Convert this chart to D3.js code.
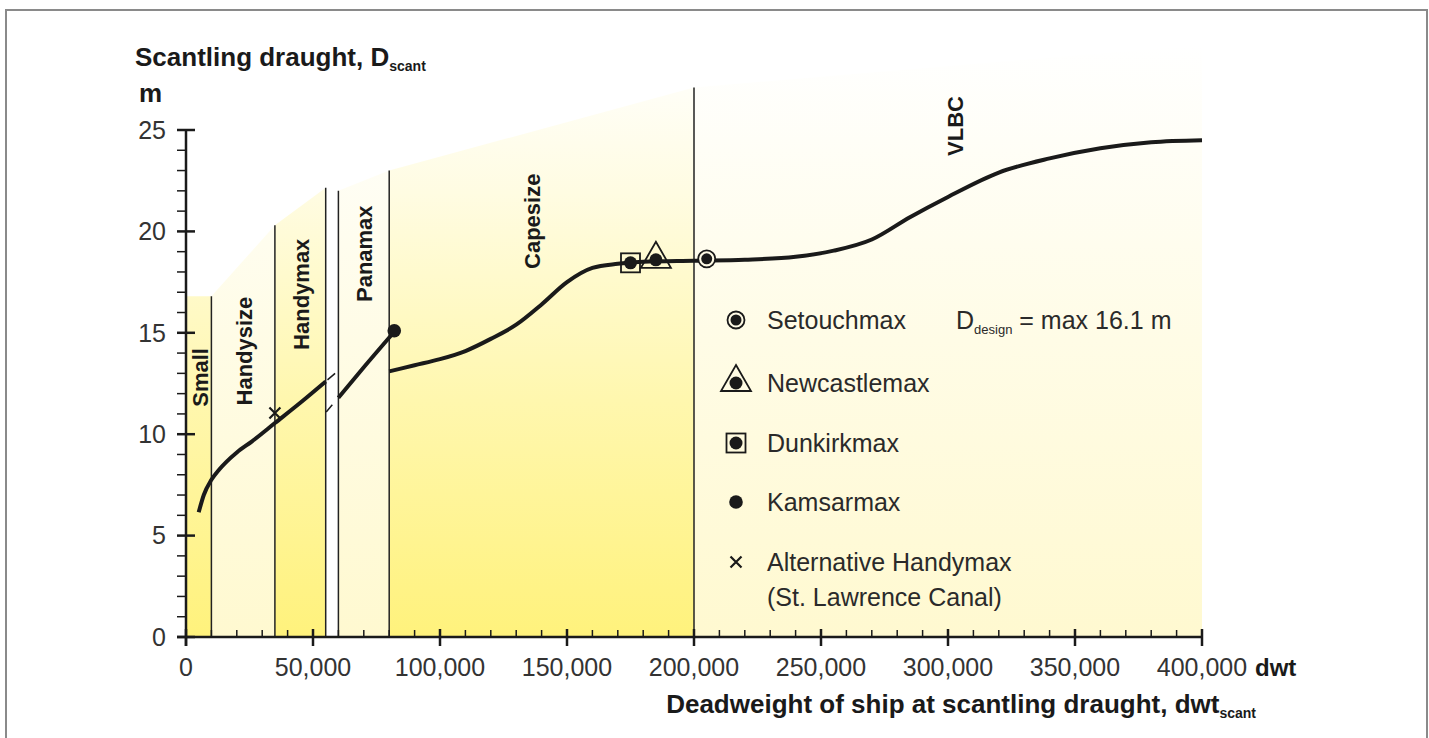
<!DOCTYPE html>
<html><head><meta charset="utf-8">
<script src="https://cdn.jsdelivr.net/npm/d3@7"></script>
<style>
html,body{margin:0;padding:0;background:#fff;}
svg text{font-family:"Liberation Sans",Arial,Helvetica,sans-serif;}
</style></head>
<body><svg id="c" width="1429" height="738"></svg>
<script>
// ---------------- DATA ----------------
const xTicks = [0, 50000, 100000, 150000, 200000, 250000, 300000, 350000, 400000];
const yTicks = [0, 5, 10, 15, 20, 25];
// class boundaries (dwt) and the top of the shaded band at each boundary (m)
const boundaryDwt = [0, 10000, 35000, 55000, 60000, 80000, 200000, 400000];
const boundaryTop = [16.8, 16.8, 20.3, 22.15, 22.0, 23.0, 27.1, 29.2];
const classNames = ["Small", "Handysize", "Handymax", "", "Panamax", "Capesize", "VLBC"];
const classShade = ["strong", "pale", "strong", "none", "pale", "strong", "pale"];
const classLabelCenter = [[5800, 12.8], [23000, 14.1], [45500, 16.9], null, [70000, 18.9], [136500, 20.5], [303000, 25.2]];
const dividerDwt = [10000, 35000, 55000, 60000, 80000, 200000];
// draught curve segments
const smallHandyDwt = [5000, 7000, 10000, 13000, 16000, 20000, 26000, 35000, 45000, 55000];
const smallHandyD   = [6.15, 7.0, 7.75, 8.25, 8.65, 9.1, 9.65, 10.55, 11.55, 12.6];
const handyExtDwt = [55700, 58700];
const handyExtD   = [12.68, 13.0];
const panamaxDwt = [60000, 70000, 82000];
const panamaxD   = [11.8, 13.3, 15.05];
const panamaxExtDwt = [55200, 57600];
const panamaxExtD   = [11.1, 11.45];
const capeDwt = [80000, 90000, 100000, 110000, 120000, 130000, 140000, 150000, 160000, 170000, 180000, 200000, 220000, 240000, 255000, 270000, 285000, 300000, 320000, 340000, 360000, 380000, 400000];
const capeD   = [13.1, 13.4, 13.7, 14.1, 14.7, 15.4, 16.4, 17.5, 18.2, 18.4, 18.5, 18.55, 18.6, 18.75, 19.05, 19.6, 20.7, 21.7, 22.9, 23.6, 24.1, 24.4, 24.5];
// named ship types
const markerNames = ["Setouchmax", "Newcastlemax", "Dunkirkmax", "Kamsarmax", "Alternative Handymax"];
const markerDwt = [205000, 185000, 175000, 82000, 35000];
const markerD   = [18.65, 18.6, 18.45, 15.1, 11.05];
const markerType = ["ring", "triangle", "square", "dot", "cross"];
const legendLines = [["Setouchmax"], ["Newcastlemax"], ["Dunkirkmax"], ["Kamsarmax"], ["Alternative Handymax", "(St. Lawrence Canal)"]];

// ---------------- CHART ----------------
const svg = d3.select("#c");
const x = d3.scaleLinear().domain([0, 400000]).range([186, 1202]);
const y = d3.scaleLinear().domain([0, 25]).range([637, 130]);
const topAt = d3.scaleLinear().domain(boundaryDwt).range(boundaryTop);

// frame
svg.append("rect").attr("x", 6).attr("y", 10).attr("width", 1421).attr("height", 760)
  .attr("fill", "none").attr("stroke", "#8a8a8a").attr("stroke-width", 2);

const defs = svg.append("defs");
function grad(id, stops) {
  const g = defs.append("linearGradient").attr("id", id).attr("gradientUnits", "userSpaceOnUse")
    .attr("x1", 0).attr("x2", 0).attr("y1", y(0)).attr("y2", y(29.2));
  stops.forEach(s => g.append("stop").attr("offset", s[0]).attr("stop-color", s[1]));
}
grad("strong", [[0, "#fff27c"], [0.4, "#fff7ae"], [0.75, "#fffce2"], [1, "#ffffff"]]);
grad("pale", [[0, "#fff9d0"], [0.5, "#fffce6"], [1, "#ffffff"]]);

const area = d3.area().x(d => x(d)).y0(y(0)).y1(d => y(topAt(d)));
classNames.forEach((n, i) => {
  if (classShade[i] === "none") return;
  const a = boundaryDwt[i], b = boundaryDwt[i + 1];
  svg.append("path").attr("d", area([a, b])).attr("fill", `url(#${classShade[i]})`);
});

// dividers
dividerDwt.forEach(d => {
  svg.append("line").attr("x1", x(d)).attr("x2", x(d)).attr("y1", y(0)).attr("y2", y(topAt(d)))
    .attr("stroke", "#222").attr("stroke-width", 1.5);
});

// class labels
classNames.forEach((n, i) => {
  if (!n) return;
  const c = classLabelCenter[i];
  svg.append("text").attr("transform", `translate(${x(c[0])},${y(c[1])}) rotate(-90)`)
    .attr("text-anchor", "middle").attr("dy", "0.35em")
    .attr("font-size", 22).attr("font-weight", "bold").attr("fill", "#1a1a1a").text(n);
});

// axes
const xAxisG = svg.append("g");
xAxisG.append("line").attr("x1", 177).attr("x2", x(400000)).attr("y1", y(0)).attr("y2", y(0))
  .attr("stroke", "#1a1a1a").attr("stroke-width", 2.5);
d3.range(0, 400001, 10000).forEach(v => {
  const major = v % 50000 === 0;
  xAxisG.append("line").attr("x1", x(v)).attr("x2", x(v))
    .attr("y1", major ? y(0) + 9 : y(0)).attr("y2", y(0) - (major ? 8 : 7))
    .attr("stroke", "#1a1a1a").attr("stroke-width", major ? 2.5 : 1.5);
});
xTicks.forEach(v => {
  xAxisG.append("text").attr("x", x(v)).attr("y", y(0) + 39).attr("text-anchor", "middle")
    .attr("font-size", 25).attr("fill", "#333").text(d3.format(",")(v));
});
svg.append("text").attr("x", 1255).attr("y", y(0) + 39).attr("font-size", 24)
  .attr("font-weight", "bold").attr("fill", "#1a1a1a").text("dwt");

const yAxisG = svg.append("g");
yAxisG.append("line").attr("x1", x(0)).attr("x2", x(0)).attr("y1", y(0) + 9).attr("y2", y(25))
  .attr("stroke", "#1a1a1a").attr("stroke-width", 2.5);
d3.range(0, 26, 1).forEach(v => {
  const major = v % 5 === 0;
  yAxisG.append("line").attr("x1", x(0) - 9).attr("x2", x(0) + (major ? 9 : 0))
    .attr("y1", y(v)).attr("y2", y(v)).attr("stroke", "#1a1a1a").attr("stroke-width", major ? 2.5 : 1.5);
});
yTicks.forEach(v => {
  yAxisG.append("text").attr("x", 166).attr("y", y(v)).attr("dy", "0.35em").attr("text-anchor", "end")
    .attr("font-size", 25).attr("fill", "#333").text(v);
});

// titles
const t1 = svg.append("text").attr("x", 135).attr("y", 66).attr("font-size", 26)
  .attr("font-weight", "bold").attr("fill", "#1a1a1a");
t1.append("tspan").text("Scantling draught, D");
t1.append("tspan").attr("font-size", 14).attr("dy", 5).text("scant");
svg.append("text").attr("x", 139).attr("y", 102).attr("font-size", 26)
  .attr("font-weight", "bold").attr("fill", "#1a1a1a").text("m");
const t2 = svg.append("text").attr("x", 1256).attr("y", 713).attr("text-anchor", "end")
  .attr("font-size", 26).attr("font-weight", "bold").attr("fill", "#1a1a1a");
t2.append("tspan").text("Deadweight of ship at scantling draught, dwt");
t2.append("tspan").attr("font-size", 14).attr("dy", 5).text("scant");

// lines
const line = d3.line().x(d => x(d[0])).y(d => y(d[1])).curve(d3.curveMonotoneX);
const zip = (a, b) => a.map((v, i) => [v, b[i]]);
[[smallHandyDwt, smallHandyD], [panamaxDwt, panamaxD], [capeDwt, capeD]].forEach(s => {
  svg.append("path").attr("d", line(zip(s[0], s[1]))).attr("fill", "none")
    .attr("stroke", "#1a1a1a").attr("stroke-width", 4).attr("stroke-linecap", "butt");
});
[[handyExtDwt, handyExtD], [panamaxExtDwt, panamaxExtD]].forEach(s => {
  svg.append("path").attr("d", d3.line().x(d => x(d[0])).y(d => y(d[1])).curve(d3.curveLinear)(zip(s[0], s[1])))
    .attr("fill", "none").attr("stroke", "#1a1a1a").attr("stroke-width", 1.5);
});

// markers
function marker(g, type, cx, cy) {
  const k = "#1a1a1a";
  if (type === "ring") {
    g.append("circle").attr("cx", cx).attr("cy", cy).attr("r", 8.5).attr("fill", "#fffbe6").attr("stroke", k).attr("stroke-width", 1.8);
    g.append("circle").attr("cx", cx).attr("cy", cy).attr("r", 5.5).attr("fill", k);
  } else if (type === "triangle") {
    g.append("path").attr("d", `M${cx},${cy - 18}L${cx + 15},${cy + 8}L${cx - 15},${cy + 8}Z`)
      .attr("fill", "none").attr("stroke", k).attr("stroke-width", 1.8);
    g.append("circle").attr("cx", cx).attr("cy", cy).attr("r", 6.5).attr("fill", k);
  } else if (type === "square") {
    g.append("rect").attr("x", cx - 9.5).attr("y", cy - 9.5).attr("width", 19).attr("height", 19)
      .attr("fill", "none").attr("stroke", k).attr("stroke-width", 1.8);
    g.append("circle").attr("cx", cx).attr("cy", cy).attr("r", 6.5).attr("fill", k);
  } else if (type === "dot") {
    g.append("circle").attr("cx", cx).attr("cy", cy).attr("r", 6.8).attr("fill", k);
  } else if (type === "cross") {
    g.append("path").attr("d", `M${cx - 5.5},${cy - 5.5}L${cx + 5.5},${cy + 5.5}M${cx + 5.5},${cy - 5.5}L${cx - 5.5},${cy + 5.5}`)
      .attr("stroke", k).attr("stroke-width", 2.2);
  }
}
const mg = svg.append("g");
markerNames.forEach((n, i) => marker(mg, markerType[i], x(markerDwt[i]), y(markerD[i])));

// legend
const lg = svg.append("g");
const legY = [320, 383, 443, 502, 562];
markerNames.forEach((n, i) => {
  marker(lg, markerType[i], 736, legY[i]);
  legendLines[i].forEach((t, j) => {
    lg.append("text").attr("x", 767).attr("y", legY[i] + 9 + j * 35).attr("font-size", 25)
      .attr("fill", "#2a2a2a").text(t);
  });
});
const dd = lg.append("text").attr("x", 956).attr("y", 329).attr("font-size", 25).attr("fill", "#2a2a2a");
dd.append("tspan").text("D");
dd.append("tspan").attr("font-size", 13).attr("dy", 5).text("design");
dd.append("tspan").attr("dy", -5).text(" = max 16.1 m");
</script></body></html>
